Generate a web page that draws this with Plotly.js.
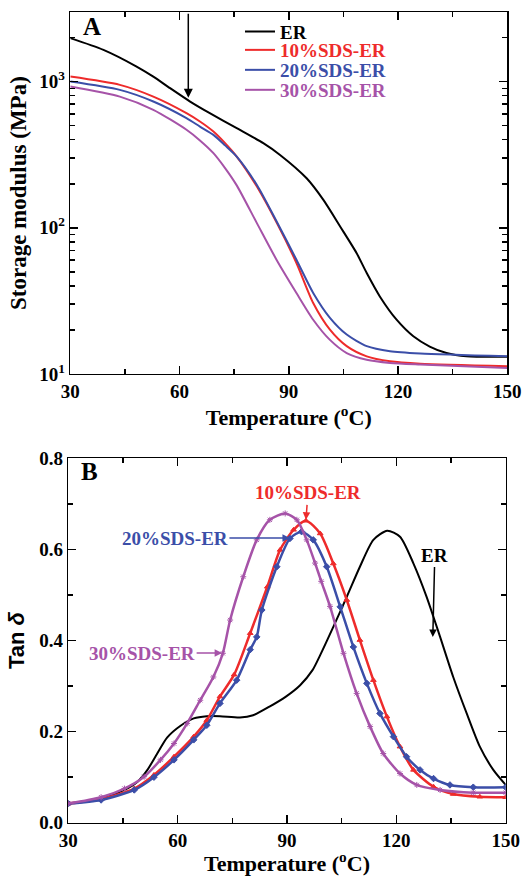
<!DOCTYPE html>
<html>
<head>
<meta charset="utf-8">
<script src="https://cdn.plot.ly/plotly-3.0.1.min.js"></script>
<style>html,body{margin:0;padding:0;background:#fff;}#chart{width:527px;height:876px;}</style>
</head>
<body>
<div id="chart"></div>
<script>
// ---------- Panel A: storage modulus (MPa) vs temperature (°C) ----------
const tA_ER = [30,39.1,48.2,52.8,57.4,62.9,68.3,75.7,83,87.6,94.9,99.5,104.1,108.6,111.4,115,119.6,124.2,128.7,133.3,138.8,150];
const eA_ER = [1983,1648,1267,1081,901,730,608,480,379,315,218,155,102,67.2,49,33.9,23.5,18.1,15.4,13.9,13.2,13.1];
const tA_S  = [30,43.6,52.8,61.9,65.6,69.3,72.5,75.7,81.2,86.7,92.1,96.7,101.3,105.9,111.4,117.8,126.1,150];
const eA_10 = [1082,949,789,608,533,455,379,307,192,108,57.4,30.6,20.1,15.5,13.2,12.2,11.75,11.3];
const eA_20 = [1000,877,730,562,492,432,366,307,197,110,60.4,35.8,24.2,18.6,15.5,14.3,13.8,13.2];
const eA_30 = [925,789,641,468,396,324,256,195,108,60,35.8,23.5,17.1,13.9,12.5,11.9,11.6,11.0];

// ---------- Panel B: tan delta vs temperature (°C) ----------
const tB_ER = [30,39,45.4,49,51.7,54.4,57.1,60.8,64.4,68,71.6,77.1,80.7,85.2,89.7,93.6,97,99.1,102.7,106.4,110,113.7,117.5,121,124.7,128.3,132,135.6,139.3,142.9,146.6,150];
const dB_ER = [0.042,0.053,0.072,0.09,0.116,0.152,0.187,0.213,0.229,0.234,0.234,0.231,0.236,0.255,0.277,0.302,0.335,0.368,0.43,0.496,0.562,0.621,0.641,0.628,0.569,0.496,0.408,0.32,0.24,0.167,0.116,0.083];
const tB_10 = [30,39,48.1,53.5,59,64.4,68,71.6,75.5,79.9,84.6,88.1,91.8,95.2,99.1,102.7,106.4,110,113.7,117.4,121,124.7,130.2,135.6,142.9,150];
const dB_10 = [0.042,0.052,0.075,0.105,0.145,0.189,0.225,0.277,0.325,0.416,0.518,0.599,0.643,0.663,0.635,0.569,0.489,0.401,0.313,0.233,0.167,0.116,0.079,0.063,0.057,0.056];
const tB_20 = [30,39,48.1,53.5,59,64.4,68,71.6,76.2,79.9,81.7,83.1,87.2,90.8,94,97.2,100.9,104.6,108.2,111.9,115.5,119.2,122.8,126.5,130.2,134.7,141.1,150];
const dB_20 = [0.042,0.05,0.072,0.1,0.138,0.182,0.214,0.262,0.313,0.38,0.408,0.467,0.562,0.624,0.639,0.621,0.562,0.474,0.386,0.306,0.24,0.189,0.145,0.116,0.097,0.083,0.078,0.078];
const tB_30 = [30,39,45.4,50.8,55.3,59,62.6,66.2,69.8,72.4,74.4,78,81.7,85.3,89.5,92.7,95.4,97.7,99.4,101.8,105.5,109.1,112.8,116.4,121,125.6,132,141.1,150];
const dB_30 = [0.042,0.056,0.075,0.101,0.138,0.174,0.218,0.269,0.32,0.372,0.445,0.54,0.621,0.665,0.679,0.665,0.621,0.57,0.53,0.475,0.372,0.284,0.211,0.152,0.108,0.083,0.072,0.066,0.066];

const names = ['ER','10%SDS-ER','20%SDS-ER','30%SDS-ER'];
const colors = ['#000000','#ee2b2b','#3b4ea8','#a653a8'];
const xTickVals = [30,60,90,120,150];
const yTickValsA = [10,100,1000];
const yTickTextA = ['10<sup>1</sup>','10<sup>2</sup>','10<sup>3</sup>'];
const yTickValsB = [0,0.2,0.4,0.6,0.8];
const yTickTextB = ['0.0','0.2','0.4','0.6','0.8'];

const serif = 'Liberation Serif, Times New Roman, serif';
const legendIds = ['legend','legend2','legend3','legend4'];

const aSeries = [[tA_ER,eA_ER],[tA_S,eA_10],[tA_S,eA_20],[tA_S,eA_30]];
const traces = aSeries.map((s,i)=>({
  x:s[0], y:s[1], type:'scatter', mode:'lines', xaxis:'x', yaxis:'y',
  name:names[i], legend:legendIds[i],
  line:{color:colors[i], width:2, shape:'spline', smoothing:0.7},
  showlegend:true
}));

const symB = ['circle','triangle-up','diamond','asterisk-open'];
const bSeries = [[tB_ER,dB_ER],[tB_10,dB_10],[tB_20,dB_20],[tB_30,dB_30]];
bSeries.forEach((s,i)=>{
  traces.push({
    x:s[0], y:s[1], type:'scatter', mode: i===0 ? 'lines' : 'lines+markers',
    xaxis:'x2', yaxis:'y2', name:names[i], showlegend:false,
    line:{color:colors[i], width: i===0 ? 2 : 2.5, shape:'spline', smoothing:0.7},
    marker:{symbol:symB[i], size:5, color:colors[i], line:{color:colors[i], width:1}}
  });
});

const axisCommon = {
  showline:true, linecolor:'#000', linewidth:1.5, mirror:'allticks',
  ticks:'inside', ticklen:8, tickwidth:1.5, tickcolor:'#000',
  showgrid:false, zeroline:false, automargin:false,
  tickfont:{family:serif, size:19, color:'#000', weight:'bold'}
};

const legendRowsY = [0.9638, 0.9429, 0.9201, 0.8973];
function legendBox(i){
  return {x:0.4554, y:legendRowsY[i], xanchor:'left', yanchor:'middle', bgcolor:'rgba(0,0,0,0)',
          font:{family:serif, size:19, color:colors[i], weight:'bold'}};
}

const layout = {
  width:527, height:876,
  margin:{l:0,r:0,t:0,b:0},
  paper_bgcolor:'#fff', plot_bgcolor:'#fff',
  showlegend:true,
  legend:legendBox(0), legend2:legendBox(1), legend3:legendBox(2), legend4:legendBox(3),
  xaxis:Object.assign({}, axisCommon, {
    domain:[0.1334,0.9626], range:[30,150], anchor:'y',
    tickvals:xTickVals,
    minor:{dtick:15, tick0:30, ticks:'inside', ticklen:5, tickwidth:1.5, tickcolor:'#000', showgrid:false},
    title:{text:'Temperature (<sup>o</sup>C)', font:{family:serif, size:22, color:'#000', weight:'bold'}, standoff:4}
  }),
  yaxis:Object.assign({}, axisCommon, {
    domain:[0.5731,0.986], type:'log', range:[1,3.474], anchor:'x',
    tickvals:yTickValsA, ticktext:yTickTextA,
    minor:{dtick:'D1', ticks:'inside', ticklen:5, tickwidth:1.5, tickcolor:'#000', showgrid:false},
    title:{text:'Storage modulus (MPa)', font:{family:serif, size:23, color:'#000', weight:'bold'}, standoff:6}
  }),
  xaxis2:Object.assign({}, axisCommon, {
    domain:[0.1296,0.9596], range:[30,150], anchor:'y2',
    tickvals:xTickVals,
    minor:{dtick:15, tick0:30, ticks:'inside', ticklen:5, tickwidth:1.5, tickcolor:'#000', showgrid:false},
    title:{text:'Temperature (<sup>o</sup>C)', font:{family:serif, size:22, color:'#000', weight:'bold'}, standoff:4}
  }),
  yaxis2:Object.assign({}, axisCommon, {
    domain:[0.0608,0.4768], range:[0,0.8], anchor:'x2',
    tickvals:yTickValsB, ticktext:yTickTextB,
    minor:{dtick:0.1, tick0:0, ticks:'inside', ticklen:5, tickwidth:1.5, tickcolor:'#000', showgrid:false},
    title:{text:'Tan <i>δ</i>', font:{family:'Liberation Sans, Arial, sans-serif', size:22, color:'#000', weight:'bold'}, standoff:8}
  }),
  annotations:[
    {xref:'paper', yref:'paper', x:0.1746, y:0.9692, xanchor:'center', yanchor:'middle', text:'A', showarrow:false,
     font:{family:serif, size:25, color:'#000', weight:'bold'}},
    {xref:'paper', yref:'paper', x:0.1689, y:0.4612, xanchor:'center', yanchor:'middle', text:'B', showarrow:false,
     font:{family:serif, size:25, color:'#000', weight:'bold'}},
    // arrow in panel A
    {xref:'x', yref:'y', x:62.4, y:Math.log10(774), axref:'x', ayref:'y', ax:62.4, ay:3.474,
     text:'', showarrow:true, arrowhead:2, arrowsize:1.2, arrowwidth:1.5, arrowcolor:'#000'},
    // panel B labels
    {xref:'x2', yref:'y2', x:95.2, y:0.665, ax:2, ay:-27, text:'10%SDS-ER', showarrow:true,
     arrowhead:2, arrowsize:1, arrowwidth:1.5, arrowcolor:colors[1],
     font:{family:serif, size:19, color:colors[1], weight:'bold'}},
    {xref:'x2', yref:'y2', x:90.8, y:0.625, ax:-115, ay:0, text:'20%SDS-ER', showarrow:true,
     arrowhead:2, arrowsize:1, arrowwidth:1.5, arrowcolor:colors[2],
     font:{family:serif, size:19, color:colors[2], weight:'bold'}},
    {xref:'x2', yref:'y2', x:72.2, y:0.3725, ax:-80, ay:0, text:'30%SDS-ER', showarrow:true,
     arrowhead:2, arrowsize:1, arrowwidth:1.5, arrowcolor:colors[3],
     font:{family:serif, size:19, color:colors[3], weight:'bold'}},
    {xref:'x2', yref:'y2', x:130.0, y:0.4077, ax:2, ay:-82, text:'ER', showarrow:true,
     arrowhead:2, arrowsize:1, arrowwidth:1.5, arrowcolor:'#000',
     font:{family:serif, size:19, color:'#000', weight:'bold'}}
  ]
};

Plotly.newPlot('chart', traces, layout, {displayModeBar:false, staticPlot:true});
</script>
</body>
</html>
